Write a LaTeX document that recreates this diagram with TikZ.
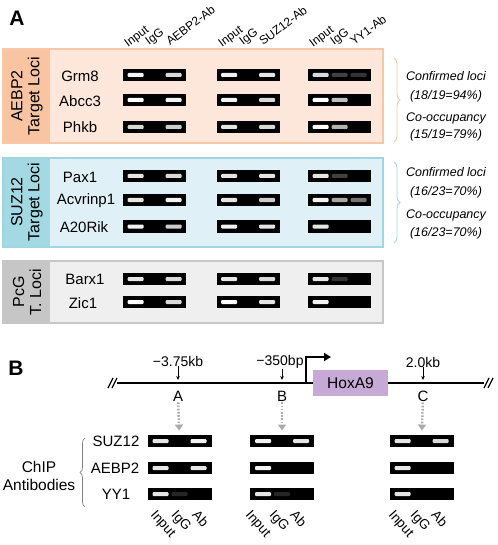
\documentclass[tikz,border=0pt]{standalone}
\usepackage{fontspec}
\setmainfont{Liberation Sans}
\usetikzlibrary{positioning,calc,arrows.meta,decorations.pathreplacing}
\definecolor{peach}{RGB}{253,230,218}
\definecolor{peachdark}{RGB}{249,196,162}
\definecolor{peachline}{RGB}{247,200,168}
\definecolor{paleblue}{RGB}{223,241,246}
\definecolor{palebluedark}{RGB}{163,217,226}
\definecolor{palebluel}{RGB}{160,214,224}
\definecolor{lightgrey}{RGB}{239,239,239}
\definecolor{midgrey}{RGB}{198,198,198}
\definecolor{lavender}{RGB}{199,169,214}

\newcommand{\fsz}[1]{\fontsize{#1}{#1}\selectfont}
% one band of a gel lane: gel name, offset, brightness (0 = no band)
\newcommand{\band}[3]{%
  \ifnum#3>0
    \fill[white!#3!black, rounded corners=1pt] ($(#1.center)+(#2-8,-2)$) rectangle ($(#1.center)+(#2+8,2)$);
  \fi}
% gel strip with three lanes: name, x, y, input, IgG, Ab
\newcommand{\gel}[6]{%
  \node[gelbox] (#1) at (#2,#3) {};
  \band{#1}{-19}{#4}\band{#1}{0}{#5}\band{#1}{19}{#6}}

\tikzset{
  gelbox/.style={fill=black, minimum width=63, minimum height=12.5, inner sep=0pt},
  panellbl/.style={font=\fsz{21}\bfseries, inner sep=0pt},
  striplbl/.style={rotate=90, align=center, font=\fontsize{16}{17}\selectfont, inner sep=0pt},
  rowlbl/.style={font=\fsz{15}, inner sep=0pt},
  hdr/.style={rotate=37, anchor=base west, font=\fsz{12}, inner sep=0pt},
  lanelbl/.style={rotate=-48, anchor=north west, font=\fsz{13.5}, inner sep=0pt},
  note/.style={font=\fsz{12.5}\itshape, inner sep=0pt},
  poslbl/.style={font=\fsz{14}, inner sep=0pt},
  letter/.style={font=\fsz{15}, inner sep=1pt},
  dotarrow/.style={draw=gray!65, line width=2.5, dash pattern=on 1.6pt off 1.6pt,
    -{Triangle[length=6pt,width=8pt]}, shorten >=4pt},
  tick/.style={-{Stealth[length=4pt,width=3.5pt]}, line width=0.8},
}

\begin{document}
\begin{tikzpicture}[x=1pt, y=1pt]
  \useasboundingbox (0,0) rectangle (497,-545);

  % Panel A
  \node[panellbl] (labA) at (17,-18) {A};

  % column headers
  \node[hdr] (h1) at (128,-48) {Input};
  \node[hdr] (h2) at (149,-46) {IgG};
  \node[hdr] (h3) at (170,-46) {AEBP2-Ab};
  \node[hdr] (h4) at (222,-48) {Input};
  \node[hdr] (h5) at (243,-46) {IgG};
  \node[hdr] (h6) at (263,-46) {SUZ12-Ab};
  \node[hdr] (h7) at (313,-48) {Input};
  \node[hdr] (h8) at (334,-46) {IgG};
  \node[hdr] (h9) at (354,-46) {YY1-Ab};

  % AEBP2 target loci
  \fill[peach] (3,-49) rectangle (383,-143);
  \fill[peachdark] (3,-49) rectangle (50,-143);
  \draw[peachline, line width=1.5] (3,-49) rectangle (383,-143);
  \node[striplbl] (aebp2lbl) at (27,-96) {AEBP2\\Target Loci};
  \node[rowlbl] (grm8) at (80,-76) {Grm8};
  \node[rowlbl] (abcc3) at (80,-101) {Abcc3};
  \node[rowlbl] (phkb) at (80,-127) {Phkb};
  \gel{ga1}{154.5}{-75}{95}{0}{85}  \gel{ga2}{248}{-75}{95}{0}{90}  \gel{ga3}{339.5}{-75}{85}{25}{20}
  \gel{gb1}{154.5}{-100}{100}{0}{95} \gel{gb2}{248}{-100}{95}{0}{85} \gel{gb3}{339.5}{-100}{100}{75}{0}
  \gel{gc1}{154.5}{-127}{85}{0}{80}  \gel{gc2}{248}{-127}{90}{0}{85} \gel{gc3}{339.5}{-127}{100}{70}{0}

  % SUZ12 target loci
  \fill[paleblue] (3,-158) rectangle (383,-247);
  \fill[palebluedark] (3,-158) rectangle (50,-247);
  \draw[palebluel, line width=1.5] (3,-158) rectangle (383,-247);
  \node[striplbl] (suz12lbl) at (27,-202) {SUZ12\\Target Loci};
  \node[rowlbl] (pax1) at (80,-177) {Pax1};
  \node[rowlbl] (acvr) at (86,-201) {Acvrinp1};
  \node[rowlbl] (a20rik) at (84,-227) {A20Rik};
  \gel{gd1}{154.5}{-176}{90}{0}{85}  \gel{gd2}{248}{-176}{90}{0}{90} \gel{gd3}{339.5}{-176}{90}{25}{0}
  \gel{ge1}{154.5}{-200}{90}{0}{95}  \gel{ge2}{248}{-200}{90}{0}{80} \gel{ge3}{339.5}{-200}{95}{65}{45}
  \gel{gf1}{154.5}{-226.5}{95}{0}{80} \gel{gf2}{248}{-226.5}{95}{0}{90} \gel{gf3}{339.5}{-226.5}{90}{0}{0}

  % PcG target loci
  \fill[lightgrey] (3,-261) rectangle (383,-323);
  \fill[midgrey] (3,-261) rectangle (50,-323);
  \draw[midgrey, line width=1.5] (3,-261) rectangle (383,-323);
  \node[striplbl] (pcglbl) at (27,-292) {PcG\\T. Loci};
  \node[rowlbl] (barx1) at (85,-279) {Barx1};
  \node[rowlbl] (zic1) at (83,-303) {Zic1};
  \gel{gg1}{154.5}{-279}{90}{0}{85}  \gel{gg2}{248}{-279}{90}{0}{85} \gel{gg3}{339.5}{-279}{90}{20}{0}
  \gel{gh1}{154.5}{-302}{100}{0}{85} \gel{gh2}{248}{-302}{100}{0}{90} \gel{gh3}{339.5}{-302}{95}{0}{0}

  % summaries
  \draw[decorate, decoration={brace, amplitude=6pt}, peachdark, line width=0.8] (394,-58) -- (394,-142);
  \node[note] (conf1) at (446,-76) {Confirmed loci};
  \node[note] (frac1) at (446,-96) {(18/19=94\%)};
  \node[note] (cooc1) at (446,-118) {Co-occupancy};
  \node[note] (frac2) at (446,-135) {(15/19=79\%)};
  \draw[decorate, decoration={brace, amplitude=6pt}, palebluel, line width=0.8] (394,-162) -- (394,-243);
  \node[note] (conf2) at (446,-172) {Confirmed loci};
  \node[note] (frac3) at (446,-192) {(16/23=70\%)};
  \node[note] (cooc2) at (446,-215) {Co-occupancy};
  \node[note] (frac4) at (446,-233) {(16/23=70\%)};

  % Panel B
  \node[panellbl] (labB) at (16,-368) {B};
  \coordinate (lineL) at (117,-383);
  \coordinate (lineR) at (484,-383);
  \draw[line width=1.2] (lineL) -- (lineR);
  \draw[line width=1.2] (108,-388) -- (113,-378) (112,-388) -- (117,-378);
  \draw[line width=1.2] (484,-388) -- (489,-378) (488,-388) -- (493,-378);
  \node[fill=lavender, minimum width=75, minimum height=26, inner sep=0pt, font=\fsz{15.5}] (hox) at (350.5,-383) {HoxA9};
  \coordinate (tss) at ($(hox.west)+(-7,0)$);
  \coordinate (tssEnd) at (331,-357);
  \draw[line width=2, -{Triangle[length=7pt,width=8pt]}] (tss) |- (tssEnd);

  % primer positions
  \node[poslbl] (pA) at (178,-361) {−3.75kb};
  \node[poslbl] (pB) at (280,-362) {−350bp};
  \node[poslbl] (pC) at (423,-362) {2.0kb};
  \coordinate (mA) at (178,-380);
  \coordinate (mB) at (282,-380);
  \coordinate (mC) at (423,-380);
  \draw[tick] (pA.south -| mA) -- (mA);
  \draw[tick] (pB.south -| mB) -- (mB);
  \draw[tick] (pC) -- (mC);
  \node[letter] (sA) at (178,-396) {A};
  \node[letter] (sB) at (282,-396) {B};
  \node[letter] (sC) at (423,-396) {C};

  % ChIP gels
  \tikzset{gelbox/.append style={minimum width=64}}
  \gel{ka1}{179.5}{-441}{90}{0}{95}  \gel{kb1}{282}{-441}{95}{0}{90}  \gel{kc1}{421.5}{-441}{90}{0}{85}
  \gel{ka2}{179.5}{-468}{90}{0}{90}  \gel{kb2}{282}{-468}{95}{0}{0}   \gel{kc2}{421.5}{-468}{90}{0}{0}
  \gel{ka3}{179.5}{-494}{90}{15}{0}  \gel{kb3}{282}{-494}{90}{15}{0}  \gel{kc3}{421.5}{-494}{90}{0}{0}
  \draw[dotarrow] (sA) -- (ka1);
  \draw[dotarrow] (sB) -- (kb1);
  \draw[dotarrow] (sC) -- (kc1);

  % antibodies
  \node[rowlbl] (rs) at (116,-441) {SUZ12};
  \node[rowlbl] (ra) at (115,-468) {AEBP2};
  \node[rowlbl] (ry) at (116,-494) {YY1};
  \draw[decorate, decoration={brace, amplitude=5pt}, gray, line width=0.7] (85,-507) -- (85,-438);
  \node[align=center, font=\fontsize{15.5}{18}\selectfont, inner sep=0pt] (chip) at (39,-476) {ChIP\\Antibodies};

  % lane labels
  \node[lanelbl] (la1) at (157,-509) {Input};
  \node[lanelbl] (la2) at (178,-509) {IgG};
  \node[lanelbl] (la3) at (199,-509) {Ab};
  \node[lanelbl] (lb1) at (252,-509) {Input};
  \node[lanelbl] (lb2) at (276,-509) {IgG};
  \node[lanelbl] (lb3) at (297,-509) {Ab};
  \node[lanelbl] (lc1) at (395,-509) {Input};
  \node[lanelbl] (lc2) at (417,-509) {IgG};
  \node[lanelbl] (lc3) at (438,-509) {Ab};
\end{tikzpicture}
\end{document}
